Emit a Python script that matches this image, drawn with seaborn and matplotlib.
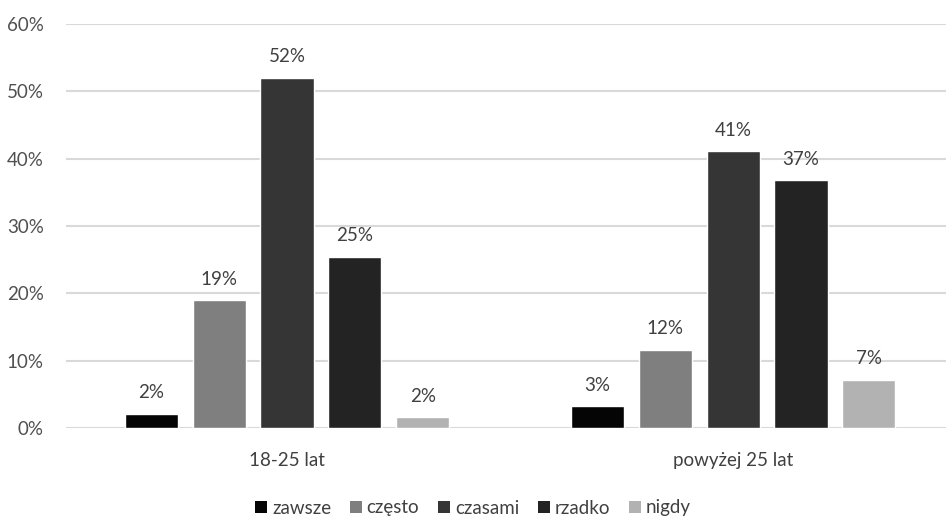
import matplotlib
matplotlib.use("Agg")
import matplotlib.pyplot as plt
import seaborn as sns
import pandas as pd
from matplotlib.ticker import FuncFormatter
from matplotlib.patches import Patch

groups = ["18-25 lat", "powyżej 25 lat"]
series = ["zawsze", "często", "czasami", "rzadko", "nigdy"]
vals_18_25 = [2.1, 19.0, 52.0, 25.4, 1.6]
vals_pow25 = [3.2, 11.6, 41.1, 36.8, 7.2]
labels_18_25 = ["2%", "19%", "52%", "25%", "2%"]
labels_pow25 = ["3%", "12%", "41%", "37%", "7%"]
colors = ["#050505", "#7f7f7f", "#353535", "#232323", "#b2b2b2"]
yticks = [0, 10, 20, 30, 40, 50, 60]

rows = []
for s, a, b in zip(series, vals_18_25, vals_pow25):
    rows.append({"grupa": groups[0], "odp": s, "val": a})
    rows.append({"grupa": groups[1], "odp": s, "val": b})
df = pd.DataFrame(rows)

sns.set_theme(style="white")
plt.rcParams["font.family"] = ["Lato", "DejaVu Sans"]

fig = plt.figure(figsize=(9.46, 5.18), dpi=100)
ax = fig.add_axes([66 / 946, (518 - 428) / 518, 880 / 946, (428 - 24) / 518])

sns.barplot(data=df, x="grupa", y="val", hue="odp", order=groups,
            hue_order=series, palette=colors, width=0.762, gap=0.22,
            saturation=1, ax=ax, legend=False)

ax.set_xlim(-0.4955, 1.4775)
ax.set_ylim(0, 60)
ax.set_yticks(yticks)
ax.yaxis.set_major_formatter(FuncFormatter(lambda v, p: f"{v:.0f}%"))
ax.grid(axis="y", color="#d9d9d9", linewidth=1.5)
ax.set_axisbelow(True)
for sp in ax.spines.values():
    sp.set_visible(False)
ax.set_xlabel("")
ax.set_ylabel("")
ax.tick_params(axis="y", length=0, pad=16, labelsize=13.5, labelcolor="#505050")
ax.tick_params(axis="x", length=0, pad=17, labelsize=13.5, labelcolor="#404040")

for cont, s in zip(ax.containers, series):
    i = series.index(s)
    ax.bar_label(cont, labels=[labels_18_25[i], labels_pow25[i]], padding=9,
                 fontsize=13.5, color="#404040")

handles = [Patch(facecolor=c, edgecolor="none") for c in colors]
fig.legend(handles, series, loc="center", bbox_to_anchor=(0.5, 1 - 508 / 518),
           ncol=5, frameon=False, fontsize=13.5, handlelength=0.65,
           handleheight=0.65, handletextpad=0.25, columnspacing=1.0,
           labelcolor="#404040")

fig.savefig("out.png", dpi=100)
